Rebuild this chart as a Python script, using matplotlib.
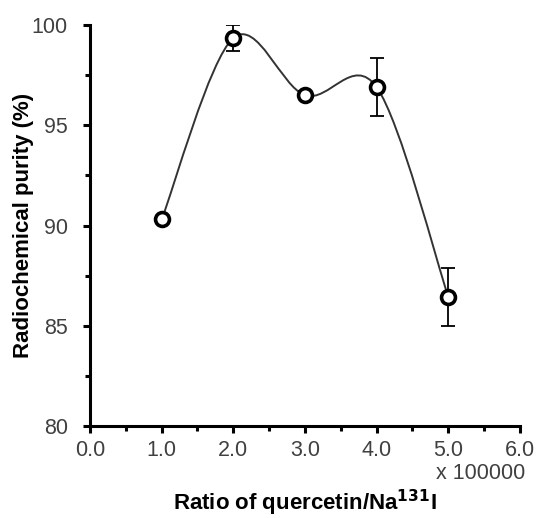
import matplotlib
matplotlib.use("Agg")
import matplotlib.pyplot as plt
from matplotlib.path import Path
from matplotlib.patches import PathPatch
from matplotlib.ticker import MultipleLocator, FormatStrFormatter
import numpy as np

plt.rcParams['font.family'] = ['Liberation Sans', 'DejaVu Sans']

ratio = [1.0, 2.0, 3.0, 4.0, 5.0]
purity = [90.3, 99.35, 96.5, 96.9, 86.45]
err = [0.0, 0.65, 0.2, 1.45, 1.45]

fig = plt.figure(figsize=(5.41, 5.18), dpi=100)
ax = fig.add_axes([0.1664, 0.1776, 0.7946, 0.7741])

# Excel-style smoothed line (cubic Bezier, tension 1/6)
pts = np.column_stack([ratio, purity])
ext = np.vstack([pts[0], pts, pts[-1]])
verts = [tuple(pts[0])]
codes = [Path.MOVETO]
for i in range(len(pts) - 1):
    p0, p1, p2, p3 = ext[i], ext[i + 1], ext[i + 2], ext[i + 3]
    c1 = p1 + (p2 - p0) / 6.0
    c2 = p2 - (p3 - p1) / 6.0
    verts += [tuple(c1), tuple(c2), tuple(p2)]
    codes += [Path.CURVE4] * 3
ax.add_patch(PathPatch(Path(verts, codes), facecolor='none', edgecolor='#333333',
                       lw=1.4, zorder=2))

ax.errorbar(ratio, purity, yerr=err, fmt='none', ecolor='black', elinewidth=1.3,
            capsize=5, capthick=1.3, zorder=3)
ax.plot(ratio, purity, 'o', ms=10, mfc='white', mec='black', mew=2.6, zorder=4,
        linestyle='none')

ax.set_xlim(0, 6)
ax.set_ylim(80, 100)
ax.xaxis.set_major_locator(MultipleLocator(1))
ax.xaxis.set_minor_locator(MultipleLocator(0.5))
ax.yaxis.set_major_locator(MultipleLocator(5))
ax.yaxis.set_minor_locator(MultipleLocator(2.5))
ax.xaxis.set_major_formatter(FormatStrFormatter('%.1f'))

for s in ['top', 'right']:
    ax.spines[s].set_visible(False)
for s in ['left', 'bottom']:
    ax.spines[s].set_linewidth(2.2)

ax.tick_params(which='major', direction='out', length=5, width=2.2, labelsize=15.5,
               labelcolor='#404040')
ax.tick_params(axis='y', which='major', pad=11)
ax.tick_params(axis='x', which='major', pad=5)
ax.tick_params(which='minor', direction='out', length=3.5, width=2.2)

ax.set_ylabel('Radiochemical purity (%)', fontsize=16, fontweight='bold')
ax.yaxis.set_label_coords(-0.13, 0.5)
ax.set_xlabel('Ratio of quercetin/Na$^{\\mathbf{131}}$I', fontsize=16,
              fontweight='bold')
ax.xaxis.set_label_coords(0.5, -0.155)
ax.text(1.012, -0.093, 'x 100000', transform=ax.transAxes, ha='right', va='top',
        fontsize=15.5, color='#404040')

fig.savefig('out.png', dpi=100)
